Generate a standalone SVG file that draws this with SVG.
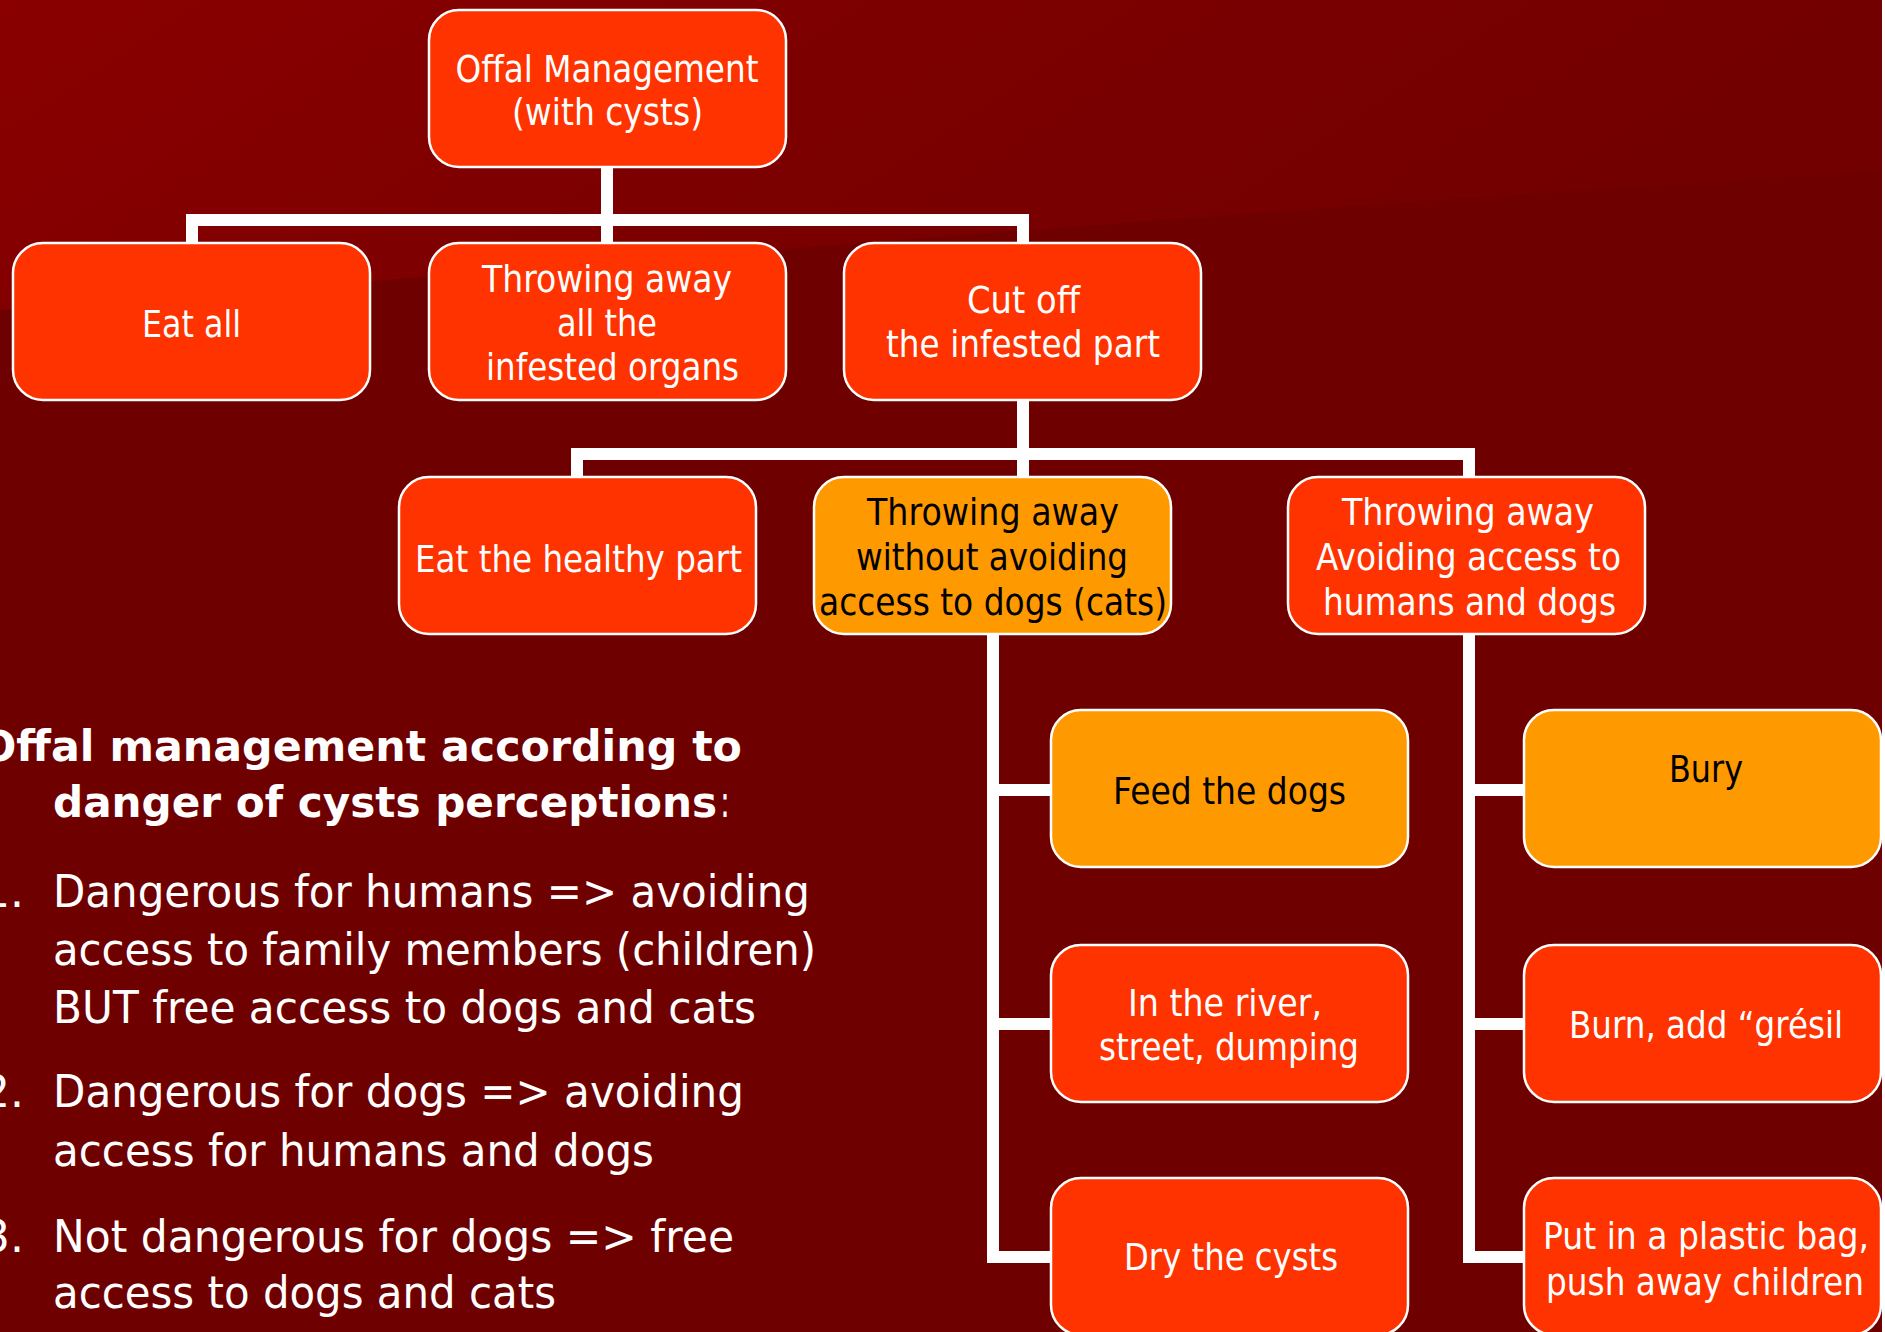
<svg xmlns="http://www.w3.org/2000/svg" width="1885" height="1332" viewBox="0 0 1885 1332">
  <defs>
    <linearGradient id="bgTop" x1="0" y1="0" x2="1" y2="0.25">
      <stop offset="0" stop-color="#8a0000"/>
      <stop offset="0.45" stop-color="#7d0000"/>
      <stop offset="1" stop-color="#720000"/>
    </linearGradient>
    <style>
      .box { stroke: #ffffff; stroke-width: 2.5; }
      .red { fill: #ff3300; }
      .orange { fill: #ff9900; }
      .conn { fill: none; stroke: #ffffff; stroke-width: 12; stroke-linejoin: miter; stroke-linecap: butt; }
      .t { font-family: "DejaVu Sans", Verdana, sans-serif; font-size: 38px; text-anchor: middle; }
      .w { fill: #ffffff; }
      .k { fill: #000000; }
      .side { font-family: "DejaVu Sans", Verdana, sans-serif; font-size: 44px; fill: #ffffff; }
      .sideb { font-family: "DejaVu Sans", Verdana, sans-serif; font-size: 42px; font-weight: bold; fill: #ffffff; }
    </style>
  </defs>

  <!-- background -->
  <rect x="0" y="0" width="1885" height="1332" fill="#6f0000"/>
  <path d="M0,0 H1885 V170 C1400,200 900,240 0,310 Z" fill="url(#bgTop)"/>
  <rect x="1882" y="0" width="3" height="1332" fill="#ffffff"/>

  <!-- connectors -->
  <g id="connectors">
    <path class="conn" d="M607,167 V243"/>
    <path class="conn" d="M192,243 V220 H1023 V243"/>
    <path class="conn" d="M1023,400 V477"/>
    <path class="conn" d="M577,477 V454 H1469 V477"/>
    <path class="conn" d="M993,635 V1257 H1051"/>
    <path class="conn" d="M993,790 H1051"/>
    <path class="conn" d="M993,1024 H1051"/>
    <path class="conn" d="M1469,635 V1257 H1524"/>
    <path class="conn" d="M1469,790 H1524"/>
    <path class="conn" d="M1469,1024 H1524"/>
  </g>

  <!-- nodes -->
  <g id="node-root">
    <rect class="box red" x="429" y="10" width="357" height="157" rx="30"/>
    <text class="t w" x="607" y="82" textLength="303" lengthAdjust="spacingAndGlyphs">Offal Management</text>
    <text class="t w" x="607.5" y="125" textLength="191" lengthAdjust="spacingAndGlyphs">(with cysts)</text>
  </g>
  <g id="node-eat-all">
    <rect class="box red" x="13" y="243" width="357" height="157" rx="30"/>
    <text class="t w" x="191.5" y="337" textLength="99" lengthAdjust="spacingAndGlyphs">Eat all</text>
  </g>
  <g id="node-throw-all">
    <rect class="box red" x="429" y="243" width="357" height="157" rx="30"/>
    <text class="t w" x="607" y="292" textLength="250" lengthAdjust="spacingAndGlyphs">Throwing away</text>
    <text class="t w" x="607" y="336" textLength="100" lengthAdjust="spacingAndGlyphs">all the</text>
    <text class="t w" x="612.5" y="380" textLength="253" lengthAdjust="spacingAndGlyphs">infested organs</text>
  </g>
  <g id="node-cut-off">
    <rect class="box red" x="844" y="243" width="357" height="157" rx="30"/>
    <text class="t w" x="1023.5" y="313" textLength="113" lengthAdjust="spacingAndGlyphs">Cut off</text>
    <text class="t w" x="1023" y="357" textLength="274" lengthAdjust="spacingAndGlyphs">the infested part</text>
  </g>
  <g id="node-eat-healthy">
    <rect class="box red" x="399" y="477" width="357" height="157" rx="30"/>
    <text class="t w" x="578.5" y="572" textLength="327" lengthAdjust="spacingAndGlyphs">Eat the healthy part</text>
  </g>
  <g id="node-throw-without">
    <rect class="box orange" x="814" y="477" width="357" height="157" rx="30"/>
    <text class="t k" x="993" y="525" textLength="252" lengthAdjust="spacingAndGlyphs">Throwing away</text>
    <text class="t k" x="992" y="570" textLength="272" lengthAdjust="spacingAndGlyphs">without avoiding</text>
    <text class="t k" x="993" y="615" textLength="348" lengthAdjust="spacingAndGlyphs">access to dogs (cats)</text>
  </g>
  <g id="node-throw-avoiding">
    <rect class="box red" x="1288" y="477" width="357" height="157" rx="30"/>
    <text class="t w" x="1468" y="525" textLength="252" lengthAdjust="spacingAndGlyphs">Throwing away</text>
    <text class="t w" x="1468.5" y="570" textLength="305" lengthAdjust="spacingAndGlyphs">Avoiding access to</text>
    <text class="t w" x="1469.5" y="615" textLength="293" lengthAdjust="spacingAndGlyphs">humans and dogs</text>
  </g>
  <g id="node-feed-dogs">
    <rect class="box orange" x="1051" y="710" width="357" height="157" rx="30"/>
    <text class="t k" x="1229.5" y="804" textLength="233" lengthAdjust="spacingAndGlyphs">Feed the dogs</text>
  </g>
  <g id="node-river">
    <rect class="box red" x="1051" y="945" width="357" height="157" rx="30"/>
    <text class="t w" x="1225" y="1016" textLength="194" lengthAdjust="spacingAndGlyphs">In the river,</text>
    <text class="t w" x="1229" y="1060" textLength="260" lengthAdjust="spacingAndGlyphs">street, dumping</text>
  </g>
  <g id="node-dry">
    <rect class="box red" x="1051" y="1178" width="357" height="157" rx="30"/>
    <text class="t w" x="1231" y="1270" textLength="214" lengthAdjust="spacingAndGlyphs">Dry the cysts</text>
  </g>
  <g id="node-bury">
    <rect class="box orange" x="1524" y="710" width="357" height="157" rx="30"/>
    <text class="t k" x="1706" y="782" textLength="74" lengthAdjust="spacingAndGlyphs">Bury</text>
  </g>
  <g id="node-burn">
    <rect class="box red" x="1524" y="945" width="357" height="157" rx="30"/>
    <text class="t w" x="1706" y="1038" textLength="274" lengthAdjust="spacingAndGlyphs">Burn, add “grésil</text>
  </g>
  <g id="node-plastic">
    <rect class="box red" x="1524" y="1178" width="357" height="157" rx="30"/>
    <text class="t w" x="1706" y="1249" textLength="326" lengthAdjust="spacingAndGlyphs">Put in a plastic bag,</text>
    <text class="t w" x="1705" y="1295" textLength="318" lengthAdjust="spacingAndGlyphs">push away children</text>
  </g>

  <!-- side text -->
  <g id="legend">
    <text class="sideb" x="-20" y="761" textLength="762" lengthAdjust="spacingAndGlyphs">Offal management according to</text>
    <text class="sideb" x="53" y="817" textLength="664" lengthAdjust="spacingAndGlyphs">danger of cysts perceptions</text>
    <text class="side" x="720" y="817" textLength="10" lengthAdjust="spacingAndGlyphs">:</text>
    <text class="side" x="24" y="907" text-anchor="end">1.</text>
    <text class="side" x="53" y="907" textLength="757" lengthAdjust="spacingAndGlyphs">Dangerous for humans =&gt; avoiding</text>
    <text class="side" x="53" y="965" textLength="763" lengthAdjust="spacingAndGlyphs">access to family members (children)</text>
    <text class="side" x="53" y="1023" textLength="703" lengthAdjust="spacingAndGlyphs">BUT free access to dogs and cats</text>
    <text class="side" x="24" y="1107" text-anchor="end">2.</text>
    <text class="side" x="53" y="1107" textLength="691" lengthAdjust="spacingAndGlyphs">Dangerous for dogs =&gt; avoiding</text>
    <text class="side" x="53" y="1166" textLength="601" lengthAdjust="spacingAndGlyphs">access for humans and dogs</text>
    <text class="side" x="24" y="1252" text-anchor="end">3.</text>
    <text class="side" x="53" y="1252" textLength="681" lengthAdjust="spacingAndGlyphs">Not dangerous for dogs =&gt; free</text>
    <text class="side" x="53" y="1308" textLength="503" lengthAdjust="spacingAndGlyphs">access to dogs and cats</text>
  </g>
</svg>
